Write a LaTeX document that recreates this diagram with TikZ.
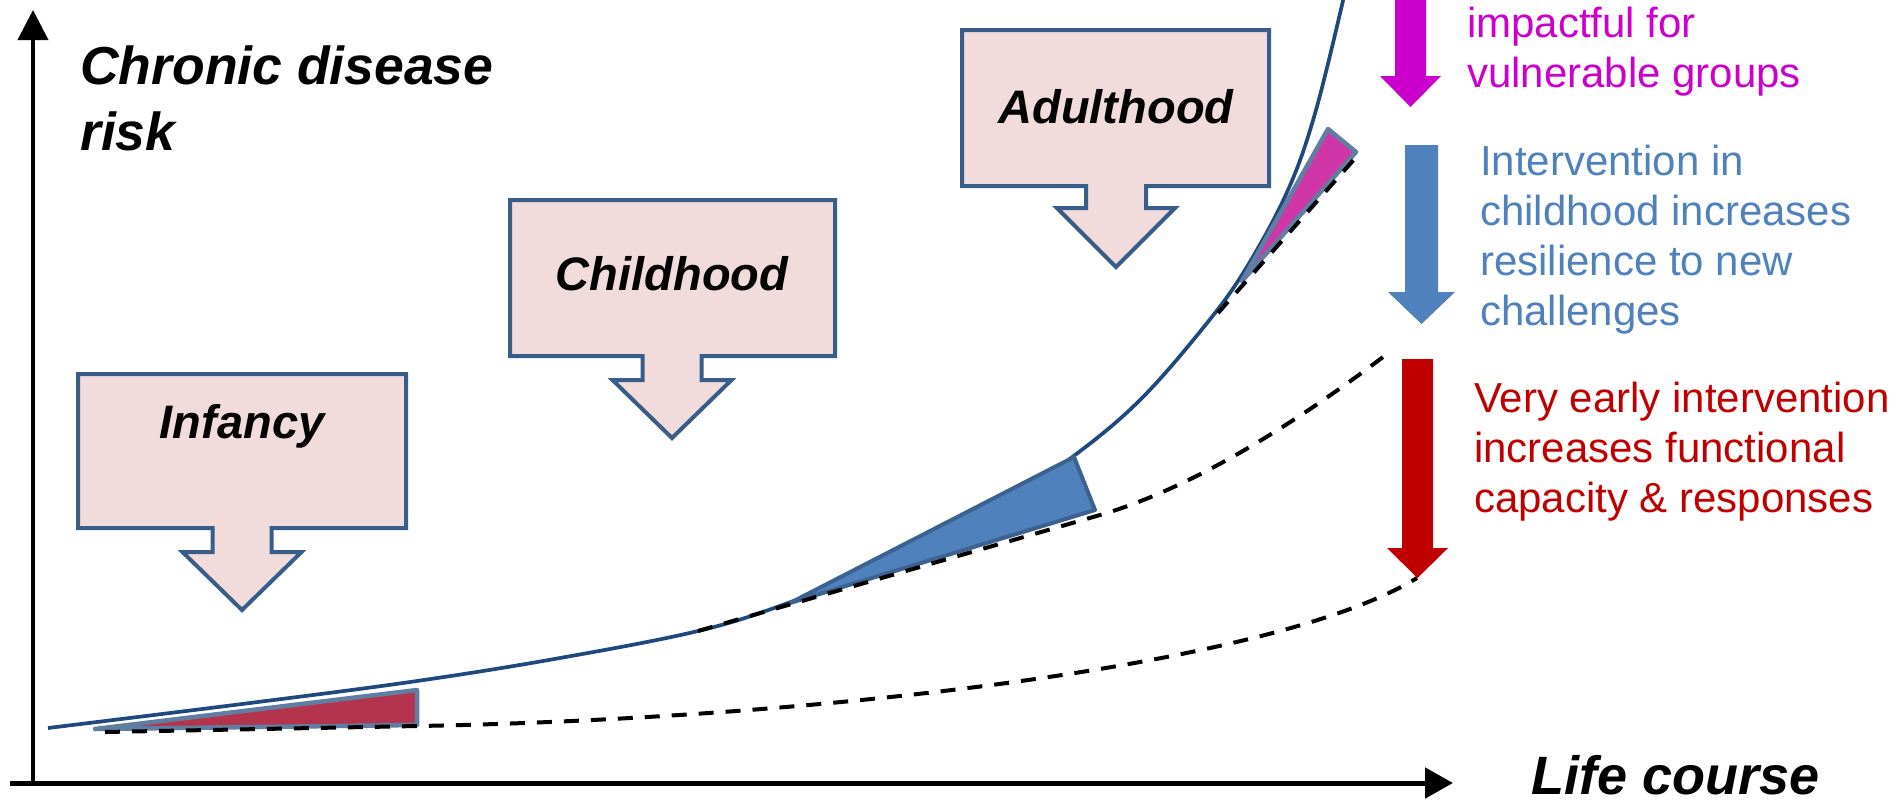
\documentclass[tikz,border=0pt]{standalone}
\usepackage{fontspec}
\setmainfont{Liberation Sans}
\usetikzlibrary{arrows.meta}
\definecolor{curveblue}{RGB}{31,73,125}
\definecolor{boxfill}{RGB}{242,220,219}
\definecolor{boxline}{RGB}{56,93,138}
\definecolor{triborder}{RGB}{96,126,162}
\definecolor{trired}{RGB}{179,52,76}
\definecolor{trimag}{RGB}{208,54,168}
\definecolor{ablue}{RGB}{79,129,189}
\definecolor{ablueline}{RGB}{60,98,145}
\definecolor{ared}{RGB}{192,0,0}
\definecolor{amag}{RGB}{204,0,204}
\begin{document}
\begin{tikzpicture}[x=1pt,y=-1pt,
  stagebox/.style={draw=boxline, fill=boxfill, line width=4pt, line join=miter},
  stagelabel/.style={font=\fontsize{47}{56}\selectfont\bfseries\itshape, inner sep=0pt, anchor=base},
  axislabel/.style={font=\fontsize{53.5}{62}\selectfont\bfseries\itshape, inner sep=0pt, anchor=base west},
  note/.style={font=\fontsize{42}{50}\selectfont, inner sep=0pt, anchor=base west},
  riskline/.style={draw=curveblue, line width=3.7pt},
  dashline/.style={draw=black, line width=4pt, dash pattern=on 15pt off 12pt},
  wedge/.style={line width=4.5pt, line join=round}]
\useasboundingbox (0,0) rectangle (1903,801);
\clip (0,0) rectangle (1903,801);

% axes
\coordinate (ybot) at (33,785);
\coordinate (ytip) at (33,10);
\coordinate (xstart) at (10,783);
\coordinate (xtip) at (1453,783);
\draw[line width=4pt, -{Triangle[length=30pt,width=30pt]}] (ybot) -- (ytip);
\draw[line width=5pt, -{Triangle[length=28pt,width=30pt]}] (xstart) -- (xtip);

% solid risk curve
\draw[riskline] plot[smooth, tension=0.6] coordinates {(48,728) (250,703) (417,681) (560,658) (698,631) (788,603) (900,558) (1000,505) (1075,455) (1140,400) (1203,328) (1245,270) (1288,190) (1316,110) (1345,-8)};

% wedges
\draw[wedge, draw=triborder, fill=trired] (95,729) -- (417,690) -- (417,725) -- cycle;
\draw[wedge, draw=ablueline, line width=4pt, fill=ablue] (790,603) -- (1074,457) -- (1095,510) -- cycle;
\draw[wedge, draw=triborder, fill=trimag] (1328,129) -- (1356,152) -- (1242,281) -- cycle;

% dashed curves
\draw[dashline] (105,732) -- (418,726) .. controls (800,719) and (1270,668) .. (1417,578);
\draw[dashline] (698,631) -- (1100,515) .. controls (1190,489) and (1293,425) .. (1383,357);
\draw[dashline] (1218,313) -- (1358,155);

% stage boxes
\draw[stagebox] (78,374) -- (406,374) -- (406,528) -- (271.5,528) -- (271.5,552) -- (301.5,552) -- (242,610) -- (182.5,552) -- (212.5,552) -- (212.5,528) -- (78,528) -- cycle;
\draw[stagebox] (510,200) -- (835,200) -- (835,356) -- (701.5,356) -- (701.5,380) -- (731.5,380) -- (672,438) -- (612.5,380) -- (642.5,380) -- (642.5,356) -- (510,356) -- cycle;
\draw[stagebox] (962,30) -- (1269,30) -- (1269,186) -- (1146,186) -- (1146,208) -- (1175,208) -- (1116,267) -- (1057,208) -- (1086,208) -- (1086,186) -- (962,186) -- cycle;
\node[stagelabel] (inf) at (242,438) {Infancy};
\node[stagelabel] (child) at (672,290) {Childhood};
\node[stagelabel] (adult) at (1116,123) {Adulthood};

% axis labels
\node[axislabel] (ylab1) at (80,84) {Chronic disease};
\node[axislabel] (ylab2) at (80,150) {risk};
\node[axislabel, font=\fontsize{54}{62}\selectfont\bfseries\itshape] (xlab) at (1531,794) {Life course};

% intervention arrows
\fill[amag] (1395,-10) -- (1426,-10) -- (1426,76) -- (1441,76) -- (1410.5,107) -- (1380,76) -- (1395,76) -- cycle;
\fill[ablue] (1405,145) -- (1438,145) -- (1438,292) -- (1455,292) -- (1421.5,324) -- (1388,292) -- (1405,292) -- cycle;
\fill[ared] (1402,359) -- (1433,359) -- (1433,548) -- (1448,548) -- (1417.5,578) -- (1387,548) -- (1402,548) -- cycle;

% notes
\node[note, text=amag] (m1) at (1467,37) {impactful for};
\node[note, text=amag] (m2) at (1467,87) {vulnerable groups};
\node[note, text=ablue] (b1) at (1480,175) {Intervention in};
\node[note, text=ablue] (b2) at (1480,225) {childhood increases};
\node[note, text=ablue] (b3) at (1480,275) {resilience to new};
\node[note, text=ablue] (b4) at (1480,325) {challenges};
\node[note, text=ared] (r1) at (1474,412) {Very early intervention};
\node[note, text=ared] (r2) at (1474,462) {increases functional};
\node[note, text=ared] (r3) at (1474,512) {capacity \& responses};
\end{tikzpicture}
\end{document}
